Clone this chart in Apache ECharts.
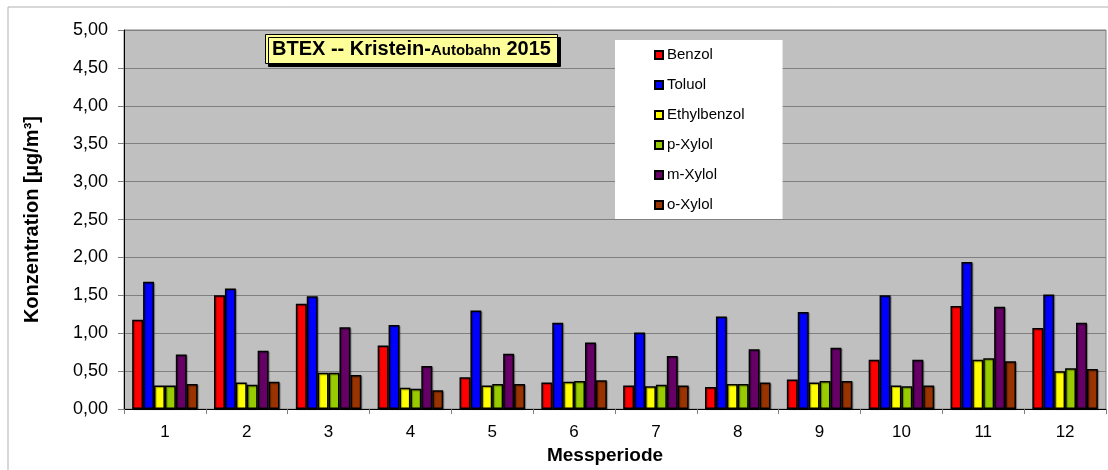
<!DOCTYPE html>
<html>
<head>
<meta charset="utf-8">
<script src="https://cdn.jsdelivr.net/npm/echarts@6/dist/echarts.min.js"></script>
<style>
  html, body { margin: 0; padding: 0; background: #fff; }
  #chart { width: 1108px; height: 470px; }
</style>
</head>
<body>
<div id="chart"></div>
<script>
const periods = ['1', '2', '3', '4', '5', '6', '7', '8', '9', '10', '11', '12'];

const benzol      = [1.18, 1.50, 1.39, 0.84, 0.42, 0.35, 0.31, 0.29, 0.39, 0.65, 1.36, 1.07];
const toluol      = [1.68, 1.59, 1.49, 1.11, 1.30, 1.14, 1.01, 1.22, 1.28, 1.50, 1.94, 1.51];
const ethylbenzol = [0.31, 0.35, 0.48, 0.28, 0.31, 0.36, 0.30, 0.33, 0.35, 0.31, 0.65, 0.50];
const pXylol      = [0.31, 0.32, 0.48, 0.27, 0.33, 0.37, 0.32, 0.33, 0.37, 0.30, 0.67, 0.54];
const mXylol      = [0.72, 0.77, 1.08, 0.57, 0.73, 0.88, 0.70, 0.79, 0.81, 0.65, 1.35, 1.14];
const oXylol      = [0.33, 0.36, 0.45, 0.25, 0.33, 0.38, 0.31, 0.35, 0.37, 0.31, 0.63, 0.53];

const seriesDefs = [
  { name: 'Benzol', data: benzol, color: '#FF0000' },
  { name: 'Toluol', data: toluol, color: '#0000FF' },
  { name: 'Ethylbenzol', data: ethylbenzol, color: '#FFFF00' },
  { name: 'p-Xylol', data: pXylol, color: '#99CC00' },
  { name: 'm-Xylol', data: mXylol, color: '#660066' },
  { name: 'o-Xylol', data: oXylol, color: '#993300' }
];

const font = 'Liberation Sans, Arial, sans-serif';

const seriesList = seriesDefs.map(function (s) {
  return {
    type: 'bar',
    name: s.name,
    data: s.data,
    barGap: '0%',
    barCategoryGap: '20%',
    itemStyle: {
      color: s.color,
      borderColor: '#000',
      borderWidth: 1.5,
      shadowColor: 'rgba(0,0,0,0.35)',
      shadowOffsetX: 1,
      shadowOffsetY: 1,
      shadowBlur: 1
    },
    emphasis: { disabled: true }
  };
});

const option = {
  animation: false,
  backgroundColor: '#fff',
  textStyle: { fontFamily: font },
  graphic: [
    {
      type: 'rect',
      shape: { x: 8, y: 7, width: 1200, height: 600 },
      style: { fill: 'none', stroke: '#b0b0b0', lineWidth: 1 },
      z: -10
    }
  ],
  title: {
    text: '{a|BTEX -- Kristein-}{b|Autobahn}{a| 2015}',
    left: 265,
    top: 34,
    padding: [5, 7, 5, 7],
    backgroundColor: '#FFFF99',
    borderColor: '#000',
    borderWidth: 1,
    shadowColor: '#000',
    shadowOffsetX: 3,
    shadowOffsetY: 3,
    shadowBlur: 0,
    textStyle: {
      rich: {
        a: { fontFamily: font, fontWeight: 'bold', fontSize: 20, lineHeight: 20, color: '#000' },
        b: { fontFamily: font, fontWeight: 'bold', fontSize: 15, lineHeight: 15, color: '#000', verticalAlign: 'bottom', padding: [0, 0, 1, 0] }
      }
    }
  },
  legend: {
    orient: 'vertical',
    left: 615,
    top: 40,
    padding: [7, 38, 6, 39],
    itemGap: 14,
    itemWidth: 8,
    itemHeight: 8,
    icon: 'rect',
    backgroundColor: '#fff',
    textStyle: { fontFamily: font, fontSize: 15, color: '#000', lineHeight: 16, padding: [0, 0, 0, -1] },
    data: seriesDefs.map(function (s) { return s.name; })
  },
  grid: {
    left: 124,
    right: 2,
    top: 30,
    bottom: 60,
    show: true,
    backgroundColor: '#C0C0C0',
    borderColor: '#808080',
    borderWidth: 1
  },
  xAxis: {
    type: 'category',
    data: periods,
    name: 'Messperiode',
    nameLocation: 'middle',
    nameGap: 29,
    nameTextStyle: { fontFamily: font, fontWeight: 'bold', fontSize: 19, color: '#000', padding: [0, 20, 0, 0] },
    axisLine: { lineStyle: { color: '#000', width: 1 } },
    axisTick: { show: true, length: 5, lineStyle: { color: '#808080' } },
    axisLabel: { fontFamily: font, fontSize: 17, color: '#000', margin: 15 },
    splitLine: { show: false }
  },
  yAxis: {
    type: 'value',
    min: 0,
    max: 5,
    interval: 0.5,
    name: 'Konzentration [µg/m³]',
    nameLocation: 'middle',
    nameGap: 82,
    nameTextStyle: { fontFamily: font, fontWeight: 'bold', fontSize: 20, color: '#000' },
    axisLine: { show: true, lineStyle: { color: '#000', width: 1 } },
    axisTick: { show: true, length: 6, lineStyle: { color: '#808080' } },
    axisLabel: {
      fontFamily: font,
      fontSize: 18,
      color: '#000',
      margin: 16,
      formatter: function (v) { return v.toFixed(2).replace('.', ','); }
    },
    splitLine: { show: true, lineStyle: { color: '#808080', width: 1 } }
  },
  series: seriesList
};

const myChart = echarts.init(document.getElementById('chart'), null, { renderer: 'canvas' });
myChart.setOption(option);
</script>
</body>
</html>
